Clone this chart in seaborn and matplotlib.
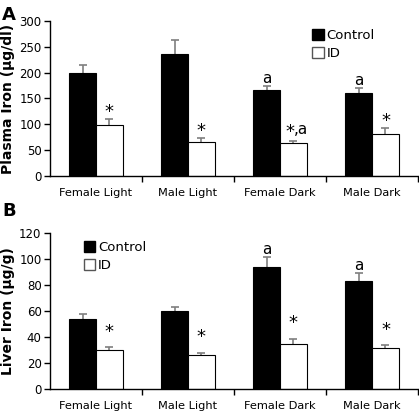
import matplotlib
matplotlib.use("Agg")
import matplotlib.pyplot as plt
import seaborn as sns
import pandas as pd
from matplotlib.patches import Patch

categories = ["Female Light", "Male Light", "Female Dark", "Male Dark"]
groups = ["Control", "ID"]

plasma_control = [200, 237, 166, 161]
plasma_id = [98, 66, 63, 82]
plasma_control_err = [14, 27, 9, 9]
plasma_id_err = [12, 8, 5, 10]
plasma_control_marks = ["", "", "a", "a"]
plasma_id_marks = ["*", "*", "*,a", "*"]

liver_control = [53.8, 59.7, 93.6, 83.3]
liver_id = [30, 26.2, 35, 31.6]
liver_control_err = [3.9, 3.3, 8, 6.4]
liver_id_err = [2, 1.6, 3.5, 2.2]
liver_control_marks = ["", "", "a", "a"]
liver_id_marks = ["*", "*", "*", "*"]

sns.set_theme(style="white")
plt.rcParams["font.family"] = ["DejaVu Sans"]
for k in ["text.color", "axes.labelcolor", "xtick.color", "ytick.color",
          "axes.edgecolor"]:
    plt.rcParams[k] = "black"

fig = plt.figure(figsize=(4.19, 4.12), dpi=100)
axA = fig.add_axes([0.119, 0.573, 0.879, 0.376])
axB = fig.add_axes([0.119, 0.056, 0.879, 0.378])


def mark(ax, x, y, m):
    if m == "a":
        ax.annotate("a", xy=(x, y), xytext=(0, 0), textcoords="offset points",
                    ha="center", va="bottom", fontsize=11, zorder=5)
    elif m == "*":
        ax.annotate("*", xy=(x, y), xytext=(0, 0), textcoords="offset points",
                    ha="center", va="bottom", fontsize=13, zorder=5)
    else:
        star, rest = m.split(",", 1)
        ax.annotate(star, xy=(x, y), xytext=(1.0, 0), textcoords="offset points",
                    ha="right", va="bottom", fontsize=13, zorder=5)
        ax.annotate("," + rest, xy=(x, y), xytext=(0.5, 2.5),
                    textcoords="offset points", ha="left", va="bottom",
                    fontsize=11, zorder=5)


def draw(ax, ctrl, idv, cerr, ierr, cmarks, imarks, ymax, ystep, ylabel, off_c, off_i):
    df = pd.DataFrame({
        "cat": categories * 2,
        "grp": [groups[0]] * 4 + [groups[1]] * 4,
        "val": list(ctrl) + list(idv),
    })
    sns.barplot(data=df, x="cat", y="val", hue="grp", order=categories,
                hue_order=groups, palette=["black", "white"], width=0.58,
                gap=0, edgecolor="black", linewidth=0.8, errorbar=None,
                legend=False, ax=ax, saturation=1, zorder=3)
    for cont, errs, marks, off in zip(ax.containers, [cerr, ierr],
                                      [cmarks, imarks], [off_c, off_i]):
        xs = [p.get_x() + p.get_width() / 2 for p in cont.patches]
        hs = [p.get_height() for p in cont.patches]
        ax.errorbar(xs, hs, yerr=errs, fmt="none", ecolor="#7f7f7f",
                    elinewidth=1.2, capsize=3, capthick=1.2, zorder=1)
        for x, h, e, m in zip(xs, hs, errs, marks):
            if m:
                off_m = off if m == "*" else off_c
                mark(ax, x, h + e + off_m, m)
    ax.set_xlim(-0.5, 3.5)
    ax.set_ylim(0, ymax)
    ax.set_yticks(range(0, ymax + 1, ystep))
    ax.set_xticks([0.5, 1.5, 2.5, 3.5])
    ax.set_xticklabels([])
    ax.set_xticks(range(4), minor=True)
    ax.set_xticklabels(categories, minor=True, fontsize=8.2)
    ax.tick_params(axis="x", which="major", direction="out", length=4,
                   width=1, color="black", bottom=True)
    ax.tick_params(axis="x", which="minor", length=0, pad=9)
    ax.tick_params(axis="y", direction="out", length=4, width=1,
                   color="black", left=True, labelsize=8.5, pad=2)
    for s in ["top", "right"]:
        ax.spines[s].set_visible(False)
    for s in ["left", "bottom"]:
        ax.spines[s].set_color("black")
        ax.spines[s].set_linewidth(1)
        ax.spines[s].set_zorder(4)
    ax.set_xlabel("")
    ax.set_ylabel(ylabel, fontsize=10, fontweight="bold", labelpad=3)


draw(axA, plasma_control, plasma_id, plasma_control_err, plasma_id_err,
     plasma_control_marks, plasma_id_marks, 300, 50, "Plasma Iron (\u03bcg/dl)", 0, -4)
draw(axB, liver_control, liver_id, liver_control_err, liver_id_err,
     liver_control_marks, liver_id_marks, 120, 20, "Liver Iron (\u03bcg/g)", 0, 5)

handles = [Patch(facecolor="black", edgecolor="black", label="Control"),
           Patch(facecolor="white", edgecolor="#555555", label="ID")]
for ax, anchor in [(axA, (0.69, 1.0)), (axB, (0.07, 1.0))]:
    leg = ax.legend(handles=handles, loc="upper left", bbox_to_anchor=anchor,
                    frameon=False, fontsize=9.5, handlelength=0.9,
                    handleheight=0.9, handletextpad=0.2, labelspacing=0.35,
                    borderaxespad=0.2)
    for t in leg.get_texts():
        t.set_color("black")

fig.text(0.005, 0.985, "A", fontsize=13, fontweight="bold", va="top")
fig.text(0.005, 0.51, "B", fontsize=13, fontweight="bold", va="top")

fig.savefig("out.png", dpi=100)
